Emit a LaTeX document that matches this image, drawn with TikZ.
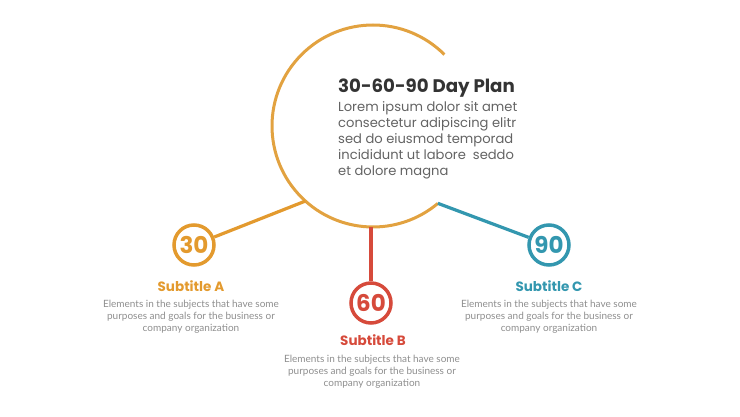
\documentclass[tikz,border=0pt]{standalone}
\usepackage{fontspec}
\setmainfont{Poppins}
\newfontfamily\latofont{Lato}
\definecolor{planorange}{HTML}{E2A240}
\definecolor{dayorange}{HTML}{E39A2E}
\definecolor{dayred}{HTML}{D64A3B}
\definecolor{dayteal}{HTML}{3397AF}
\definecolor{titlegray}{HTML}{333333}
\definecolor{bodygray}{HTML}{636363}
\definecolor{notegray}{HTML}{8E8E8E}
\begin{document}
\begin{tikzpicture}[x=1pt,y=1pt,
		daycircle/.style={circle,draw=#1,text=#1,line width=3.5pt,minimum size=40pt,inner sep=0pt,font=\fontsize{23}{23}\selectfont\bfseries},
		subtitle/.style={text=#1,inner sep=0pt,anchor=base,font=\fontsize{13.5}{15}\selectfont\bfseries},
		note/.style={text=notegray,inner sep=0pt,anchor=north,align=center,font=\latofont\fontsize{10}{12}\selectfont},
		link/.style={line width=3.2pt}]
			\useasboundingbox (0,0) rectangle (740,416);
			\node[circle,minimum size=202pt,inner sep=0pt,outer sep=0pt] (plan) at (373,290) {};
			\draw[planorange,line width=3pt] (plan.45) arc (45:310:101pt);
			\node[daycircle=dayorange] (d30) at (194,171) {30};
			\node[daycircle=dayred] (d60) at (371,113) {60};
			\node[daycircle=dayteal] (d90) at (549,171) {90};
			\draw[link,dayorange] (plan.228) to (d30);
			\draw[link,dayred] (plan.south -| d60) to (d60);
			\draw[link,dayteal] (plan.310) to (d90);
			\node[anchor=base west,inner sep=0pt,text=titlegray,font=\fontsize{18.2}{20}\selectfont\bfseries] (title) at (338,323) {30-60-90 Day Plan};
			\node[anchor=north west,inner sep=0pt,align=left,text=bodygray,font=\fontsize{13.1}{16.1}\selectfont] (body) at (338,315) {Lorem ipsum dolor sit amet\\consectetur adipiscing elitr\\sed do eiusmod temporad\\incididunt ut labore\ \ seddo\\et dolore magna};
			\node[subtitle=dayorange] (subA) at (191,125) {Subtitle A};
			\node[subtitle=dayred] (subB) at (373,71) {Subtitle B};
			\node[subtitle=dayteal] (subC) at (549,125) {Subtitle C};
			\node[note] (noteA) at (191,116.5) {Elements in the subjects that have some\\purposes and goals for the business or\\company organization};
			\node[note] (noteB) at (372,61.5) {Elements in the subjects that have some\\purposes and goals for the business or\\company organization};
			\node[note] (noteC) at (549,116.5) {Elements in the subjects that have some\\purposes and goals for the business or\\company organization};
		\end{tikzpicture}
\end{document}
